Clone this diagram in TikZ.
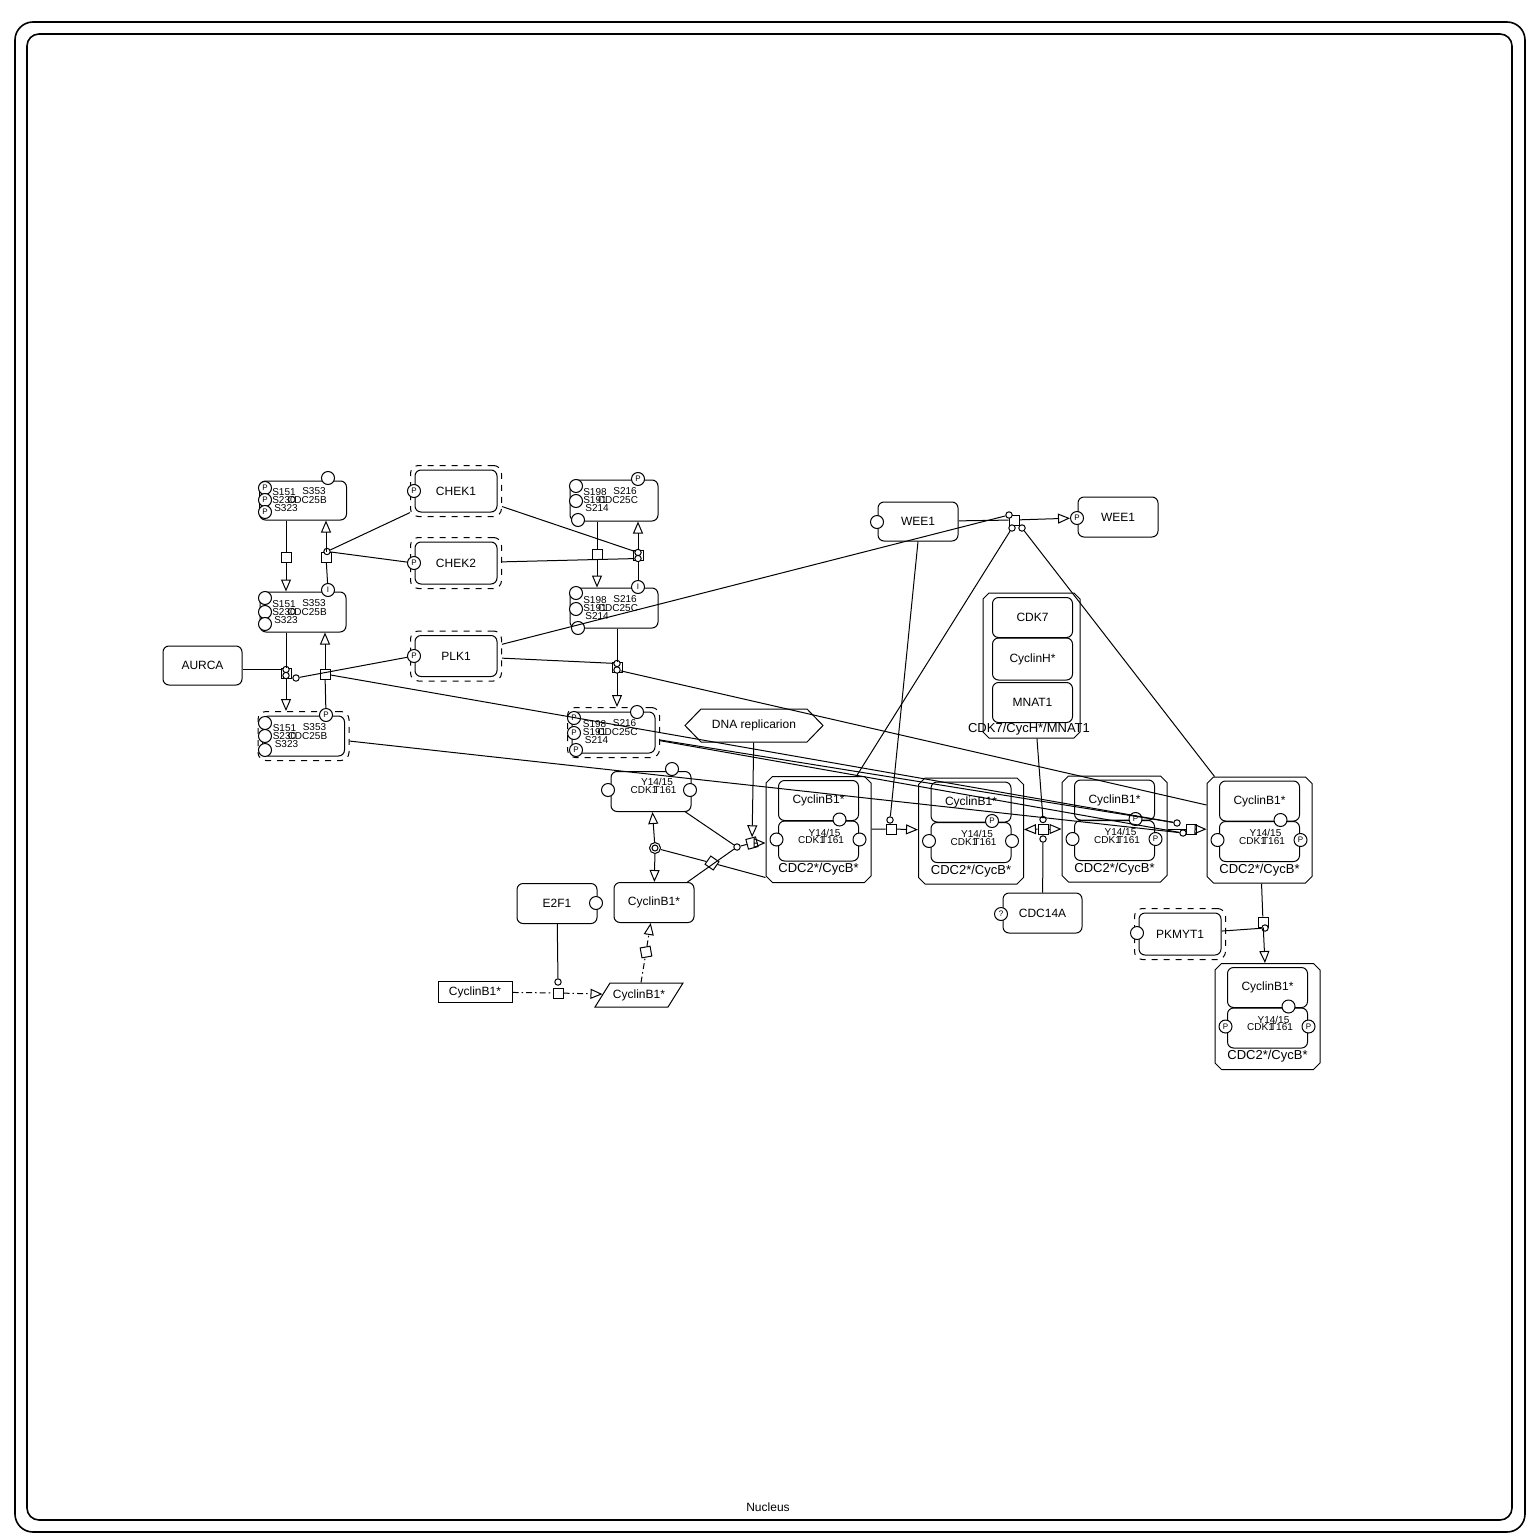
\documentclass[tikz,border=0pt]{standalone}
\usepackage{fontspec}
\setmainfont{Liberation Sans}
\usetikzlibrary{positioning, arrows.meta, shapes.geometric, fit}

\tikzset{
  ent/.style={draw, rounded corners=3pt, minimum width=40pt, minimum height=20pt, inner sep=0pt, font=\fontsize{6}{7}\selectfont},
  actv/.style={draw, dashed, rounded corners=4pt, inner sep=2pt},
  sv/.style={circle, draw, fill=white, minimum size=6.5pt, inner sep=0pt, font=\fontsize{4}{4}\selectfont},
  site/.style={inner sep=0pt, font=\fontsize{5}{5}\selectfont},
  proc/.style={draw, fill=white, minimum size=5pt, inner sep=0pt},
  cat/.style={circle, draw, fill=white, minimum size=3.2pt, inner sep=0pt},
  conv/.style={-{Triangle[open, length=6pt, width=5pt]}},
  ddash/.style={dash pattern=on 3pt off 1.5pt on 0.8pt off 1.5pt},
  cplxlbl/.style={inner sep=0pt, font=\fontsize{6.5}{7}\selectfont},
}

% CDC2*/CycB* complex: name, x, y, top, left, right state
\newcommand{\cdccomplex}[6]{%
  \begin{scope}[shift={(#2,#3)}]
    \draw (-46,-53) -- (46,-53) -- (52.5,-46.5) -- (52.5,46.5) -- (46,53) -- (-46,53) -- (-52.5,46.5) -- (-52.5,-46.5) -- cycle;
    \node[minimum width=52.5pt, minimum height=53pt, inner sep=0pt] (#1) at (0,0) {};
    \node[ent] (#1-cyc) at (0,-29) {CyclinB1*};
    \node[ent] (#1-cdk) at (0,11.5) {};
    \node[site] at (6,3) {Y14/15};
    \node[site] at (-7,11) {CDK1};
    \node[site] at (14,11) {T161};
    \node[cplxlbl] at (0,40) {CDC2*/CycB*};
    \node[sv] (#1-t) at (21,-10) {#4};
    \node[sv] (#1-l) at (-42,10) {#5};
    \node[sv] (#1-r) at (41,10) {#6};
  \end{scope}}

% site labels of a CDC25 box: x, y, name, four sites
\newcommand{\cdcsites}[7]{%
  \begin{scope}[shift={(#1,#2)}]
    \node[site] at (4,0) {#3};
    \node[site] at (-19,-8) {#4};
    \node[site] at (11,-9) {#5};
    \node[site] at (-19,0) {#6};
    \node[site] at (-17,8) {#7};
  \end{scope}}

\begin{document}
\begin{tikzpicture}[x=0.5pt, y=-0.5pt, line width=0.5pt]
  \useasboundingbox (0,0) rectangle (1536,1536);

  % Compartment
  \draw[line width=0.8pt, rounded corners=9pt] (15,22) rectangle (1525,1532);
  \draw[line width=0.8pt, rounded corners=6pt] (27,34) rectangle (1512,1520);
  \node[font=\fontsize{6}{7}\selectfont] (nucleus) at (768,1507) {Nucleus};

  % CDC25B
  \node[ent, minimum width=43.5pt, minimum height=19.5pt] (cdcb1) at (303,500.5) {};
  \node[ent, minimum width=43pt] (cdcb2) at (303,612) {};
  \node[ent, minimum width=41pt] (cdcb3) at (303.5,736) {};
  \node[actv, fit=(cdcb3)] (cdcb3o) {};
  \cdcsites{303}{500.5}{CDC25B}{S151}{S353}{S230}{S323}
  \cdcsites{303}{612}{CDC25B}{S151}{S353}{S230}{S323}
  \cdcsites{303.5}{736}{CDC25B}{S151}{S353}{S230}{S323}
  \node[sv] (b1a) at (265,488) {P};
  \node[sv] (b1b) at (265,500) {P};
  \node[sv] (b1c) at (265,512) {P};
  \node[sv] (b1t) at (328,478) {};
  \node[sv] (b2a) at (265,598) {};
  \node[sv] (b2b) at (265,612) {};
  \node[sv] (b2c) at (265,624) {};
  \node[sv] (b2t) at (328,590) {I};
  \node[sv] (b3a) at (265,723) {};
  \node[sv] (b3b) at (265,736) {};
  \node[sv] (b3c) at (265,750) {};
  \node[sv] (b3t) at (326,715) {P};

  % CDC25C
  \node[ent, minimum width=44pt, minimum height=20.5pt] (cdcc1) at (614,500.5) {};
  \node[ent, minimum width=44pt] (cdcc2) at (614,608) {};
  \node[ent, minimum width=41.5pt, minimum height=20.5pt] (cdcc3) at (613.5,732.5) {};
  \node[actv, fit=(cdcc3)] (cdcc3o) {};
  \cdcsites{614}{500.5}{CDC25C}{S198}{S216}{S191}{S214}
  \cdcsites{614}{608}{CDC25C}{S198}{S216}{S191}{S214}
  \cdcsites{613.5}{732.5}{CDC25C}{S198}{S216}{S191}{S214}
  \node[sv] (c1a) at (576,486) {};
  \node[sv] (c1b) at (576,501) {};
  \node[sv] (c1c) at (578,520) {};
  \node[sv] (c1t) at (638,479) {P};
  \node[sv] (c2a) at (576,593) {};
  \node[sv] (c2b) at (576,609) {};
  \node[sv] (c2c) at (578,628) {};
  \node[sv] (c2t) at (638,587) {I};
  \node[sv] (c3a) at (574,718) {P};
  \node[sv] (c3b) at (574,733) {P};
  \node[sv] (c3c) at (576,750) {P};
  \node[sv] (c3t) at (637,712) {};

  % Kinases
  \node[ent, minimum width=41pt, minimum height=21pt] (chek1) at (456,491) {CHEK1};
  \node[actv, fit=(chek1)] (chek1o) {};
  \node[sv] (chek1p) at (414,491) {P};
  \node[ent, minimum width=41pt, minimum height=21pt] (chek2) at (456,563) {CHEK2};
  \node[actv, fit=(chek2)] (chek2o) {};
  \node[sv] (chek2p) at (414,563) {P};
  \node[ent, minimum width=41pt, minimum height=20.5pt] (plk1) at (456,656) {PLK1};
  \node[actv, fit=(plk1)] (plk1o) {};
  \node[sv] (plk1p) at (414,656) {P};
  \node[ent, minimum width=39.5pt, minimum height=19.5pt] (aurca) at (202.5,665.5) {AURCA};
  \node[ent, minimum height=19.5pt] (wee1a) at (918,521.5) {WEE1};
  \node[sv] (wee1as) at (877,522) {};
  \node[ent] (wee1b) at (1118,517) {WEE1};
  \node[sv] (wee1bp) at (1077,518) {P};

  % CDK7/CycH*/MNAT1
  \draw (989,593) -- (1074,593) -- (1080,599) -- (1080,732) -- (1074,738) -- (989,738) -- (983,732) -- (983,599) -- cycle;
  \node[minimum width=48.5pt, minimum height=72.5pt, inner sep=0pt] (cdk7c) at (1031.5,665.5) {};
  \node[ent] (cdk7) at (1032.5,617.5) {CDK7};
  \node[ent, minimum height=21pt] (cych) at (1032.5,659) {CyclinH*};
  \node[ent] (mnat1) at (1032.5,702.5) {MNAT1};
  \node[cplxlbl] (cdk7lbl) at (1029,729) {CDK7/CycH*/MNAT1};

  % CDC2*/CycB* complexes
  \cdccomplex{c1}{818.5}{829.5}{}{}{}
  \cdccomplex{c2}{971}{831}{P}{}{}
  \cdccomplex{c3}{1114.5}{829}{P}{}{P}
  \cdccomplex{c4}{1259.5}{830}{}{}{P}
  \cdccomplex{c5}{1267.5}{1016.5}{}{P}{P}

  % CDK1, CyclinB1*, E2F1
  \node[ent] (cdk1) at (651,791.5) {};
  \node[site] at (657,782) {Y14/15};
  \node[site] at (644,790) {CDK1};
  \node[site] at (665,790) {T161};
  \node[sv] (cdk1l) at (608,790) {};
  \node[sv] (cdk1r) at (690,790) {};
  \node[sv] (cdk1t) at (672,769) {};
  \node[ent] (cycb) at (654,902.5) {CyclinB1*};
  \node[ent] (e2f1) at (557,903.5) {E2F1};
  \node[sv] (e2f1s) at (596,903) {};
  \node[draw, minimum width=37pt, minimum height=10.5pt, inner sep=0pt, font=\fontsize{6}{7}\selectfont] (cycbsrc) at (475,992) {CyclinB1*};
  \draw (595,1007) -- (610,983) -- (683,983) -- (668,1007) -- cycle;
  \node[minimum width=36pt, minimum height=12pt, inner sep=0pt, font=\fontsize{6}{7}\selectfont] (cycbrna) at (639,995) {CyclinB1*};

  % DNA replicarion
  \draw (685,725.5) -- (701,709) -- (807,709) -- (823,725.5) -- (807,742) -- (701,742) -- cycle;
  \node[minimum width=69pt, minimum height=16.5pt, inner sep=0pt, font=\fontsize{6}{7}\selectfont] (dna) at (754,725.5) {DNA replicarion};

  % CDC14A, PKMYT1
  \node[ent, minimum width=39.5pt] (cdc14a) at (1042.5,913) {CDC14A};
  \node[sv] (cdc14as) at (1001,914) {?};
  \node[ent, minimum width=41pt, minimum height=21pt] (pkmyt1) at (1180,934) {PKMYT1};
  \node[actv, fit=(pkmyt1)] (pkmyt1o) {};
  \node[sv] (pkmyt1s) at (1137,933) {};

  % Process nodes
  \node[proc] (p1) at (286,557) {};
  \node[proc] (p2) at (326,557) {};
  \node[cat] (p2c) at (327,551.5) {};
  \node[proc] (p3) at (286,673) {};
  \node[cat] (p3a) at (286,669.5) {};
  \node[cat] (p3b) at (286,675.5) {};
  \node[cat] (p3c) at (296,678) {};
  \node[proc] (p4) at (325,674) {};
  \node[proc] (p6) at (597,554) {};
  \node[proc] (p5) at (638,555.5) {};
  \node[cat] (p5a) at (638,552.5) {};
  \node[cat] (p5b) at (638,558.5) {};
  \node[proc] (p7) at (617,667) {};
  \node[cat] (p7a) at (617,663.5) {};
  \node[cat] (p7b) at (617,670) {};
  \node[proc] (pw) at (1014,520) {};
  \node[cat] (pwa) at (1009,515) {};
  \node[cat] (pwb) at (1012,528) {};
  \node[cat] (pwc) at (1022,528) {};
  \node[proc] (p8) at (891,829) {};
  \node[cat] (p8c) at (890,820) {};
  \node[proc] (p9) at (1043,829) {};
  \node[cat] (p9a) at (1043,819.5) {};
  \node[cat] (p9b) at (1043,839) {};
  \node[proc] (p10) at (1191,829) {};
  \node[cat] (p10a) at (1177,823) {};
  \node[cat] (p10b) at (1183,833) {};
  \node[proc] (p11) at (1263,922) {};
  \node[cat] (p11c) at (1265,928) {};
  \node[proc, rotate=-35] (pd) at (712,863) {};
  \node[circle, draw, fill=white, minimum size=5.5pt, inner sep=0pt] (dis) at (655,848) {};
  \node[circle, draw, minimum size=3pt, inner sep=0pt] (disin) at (655,848) {};
  \node[cat] (ja) at (737,847) {};
  \node[proc, rotate=15] (pa) at (752,843) {};
  \node[proc] (pe) at (558,993) {};
  \node[cat] (pec) at (558,982) {};
  \node[proc, rotate=10] (pt) at (646,952) {};

  % CDC25B reactions
  \draw (cdcb1.south -| p1) -- (p1);
  \draw[conv] (p1) -- (p1 |- cdcb2.north);
  \draw (b2t) -- (p2);
  \draw[conv] (p2) -- (p2 |- cdcb1.south);
  \draw (chek1o) -- (p2c);
  \draw (chek2p) -- (p2c);
  \draw (cdcb2.south -| p3) -- (p3);
  \draw[conv] (p3) -- (p3 |- cdcb3o.north);
  \draw (b3t) -- (p4);
  \draw[conv] (p4) -- (p4 |- cdcb2.south);
  \draw (aurca.east |- p3a) -- (p3a);
  \draw (plk1p) -- (p3c);

  % CDC25C reactions
  \draw (cdcc1.south -| p6) -- (p6);
  \draw[conv] (p6) -- (p6 |- cdcc2.north);
  \draw (c2t) -- (p5);
  \draw[conv] (p5) -- (p5 |- cdcc1.south);
  \draw (chek1o) -- (p5a);
  \draw (chek2o) -- (p5b);
  \draw (cdcc2.south -| p7) -- (p7);
  \draw[conv] (p7) -- (p7 |- cdcc3o.north);
  \draw (plk1o) -- (p7a);
  \draw ([shift={(0,-25)}]c4.west) -- (p7b);

  % WEE1 reactions
  \draw (plk1o) -- (pwa);
  \draw (wee1a) -- (pw);
  \draw[conv] (pw) -- (wee1bp);
  \draw (pwb) -- ([shift={(38,0)}]c1.north);
  \draw (pwc) -- ([shift={(-45,0)}]c4.north);
  \draw (wee1a.south) -- (p8c);

  % CDC2*/CycB* conversions
  \draw (c1) -- (p8);
  \draw[conv] (p8) -- (c2);
  \draw[conv] (p9) -- (c2);
  \draw[conv] (p9) -- (c3);
  \draw (cdk7c) -- (p9a);
  \draw (cdc14a) -- (p9b);
  \draw (c3) -- (p10);
  \draw[conv] (p10) -- (c4);
  \draw (p4) -- (p10a);
  \draw (cdcb3o) -- (p10b);
  \draw (cdcc3o) -- (p10a);
  \draw (cdcc3o) -- (p10b);
  \draw (c4) -- (p11);
  \draw[conv] (p11) -- (c5);
  \draw (pkmyt1) -- (p11c);

  % association / dissociation
  \draw ([shift={(0,48)}]c1.west) -- (pd);
  \draw (pd) -- (dis);
  \draw[conv] (dis) -- (cdk1);
  \draw[conv] (dis) -- (cycb);
  \draw ([xshift=-3pt]cdk1.south east) -- (ja);
  \draw ([xshift=-3.5pt]cycb.north east) -- (ja);
  \draw (ja) -- (pa);
  \draw[conv] (pa) -- (pa -| c1.west);
  \draw[conv] (dna) -- (pa);

  % transcription / translation of CyclinB1*
  \draw (e2f1) -- (pec);
  \draw[ddash] (cycbsrc) -- (pe);
  \draw[ddash, conv] (pe) -- (cycbrna);
  \draw[ddash] (cycbrna) -- (pt);
  \draw[ddash, conv] (pt) -- (cycb);
\end{tikzpicture}
\end{document}
